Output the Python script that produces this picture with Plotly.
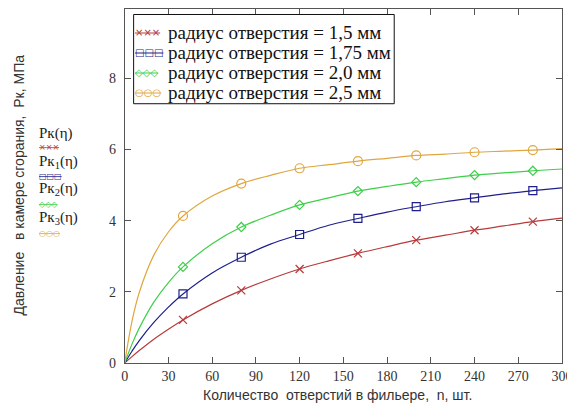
import plotly.graph_objects as go

# Data
n = [0, 5, 10, 20, 30, 40, 60, 80, 100, 120, 140, 160, 180, 200, 220, 240, 260, 280, 300]
pk_15 = [0, 0.18, 0.35, 0.67, 0.95, 1.21, 1.66, 2.04, 2.36, 2.64, 2.87, 3.08, 3.27, 3.45, 3.59, 3.73, 3.85, 3.97, 4.07]
pk_175 = [0, 0.33, 0.63, 1.14, 1.57, 1.94, 2.53, 2.97, 3.34, 3.61, 3.87, 4.06, 4.24, 4.39, 4.53, 4.64, 4.75, 4.84, 4.92]
pk_20 = [0, 0.53, 0.98, 1.71, 2.26, 2.70, 3.35, 3.82, 4.15, 4.44, 4.64, 4.83, 4.96, 5.08, 5.18, 5.28, 5.34, 5.40, 5.45]
pk_25 = [0, 1.17, 1.98, 3.03, 3.68, 4.13, 4.69, 5.04, 5.27, 5.47, 5.57, 5.67, 5.75, 5.83, 5.87, 5.92, 5.95, 5.98, 6.02]

names = ["радиус отверстия = 1,5 мм", "радиус отверстия = 1,75 мм",
         "радиус отверстия = 2,0 мм", "радиус отверстия = 2,5 мм"]
series = [pk_15, pk_175, pk_20, pk_25]
colors = ["#b83a3a", "#1f1f8c", "#3fcf4a", "#e0a640"]
symbols = ["x-thin-open", "square-open", "diamond-open", "circle-open"]
msizes = [8, 8, 7, 9]
sym_txt = ["<s>×××</s>", "<s>□□□</s>", "<s>◇◇◇</s>", "<s>○○○</s>"]

x_ticks = [0, 30, 60, 90, 120, 150, 180, 210, 240, 270, 300]
y_ticks = [0, 2, 4, 6, 8]
marker_every = 40

SERIF = '"Liberation Serif", "Times New Roman", serif'
SANS = '"Liberation Sans", Arial, sans-serif'

fig = go.Figure()
for name, ys, c, s, ms in zip(names, series, colors, symbols, msizes):
    fig.add_trace(go.Scatter(x=n, y=ys, mode="lines", name=name,
                             line=dict(color=c, width=1.2, shape="spline"),
                             showlegend=False, hoverinfo="skip"))
    mx = [xv for xv in n if xv > 0 and xv % marker_every == 0]
    my = [yv for xv, yv in zip(n, ys) if xv > 0 and xv % marker_every == 0]
    fig.add_trace(go.Scatter(x=mx, y=my, mode="markers", name=name,
                             marker=dict(symbol=s, size=ms, color=c, line=dict(color=c, width=1.2)),
                             showlegend=False))

# page is offset by the browser's 8px body margin
OFF = 8
FW, FH = 575 - OFF, 408 - OFF
PX0, PX1 = 121.5, 562   # plot left/right in page pixels
PY0, PY1 = 8, 363       # plot top/bottom in page pixels
R = FW - (PX1 - OFF)
B = FH - (PY1 - OFF)
T = PY0 - OFF
plot_w = FW - R
plot_h = FH - T - B
dom0 = (PX0 - OFF) / plot_w
ymax = (PY1 - PY0) / 35.7


def px(xp):
    return (xp - OFF) / plot_w


def py(yp):
    return 1 - (yp - PY0) / plot_h


axis_common = dict(showline=True, linecolor="#555555", linewidth=1, mirror="ticks",
                   ticks="inside", ticklen=6, tickcolor="#555555", showgrid=False, zeroline=False,
                   tickfont=dict(family=SERIF, size=14, color="#333333"))

fig.update_layout(
    width=FW, height=FH,
    margin=dict(l=0, r=R, t=T, b=B),
    plot_bgcolor="white", paper_bgcolor="white",
    xaxis=dict(range=[0, 300], tickvals=x_ticks, domain=[dom0, 1], **axis_common),
    yaxis=dict(range=[0, ymax], tickvals=y_ticks, anchor="x", ticklabelstandoff=5, **axis_common),
    showlegend=False,
)

# Legend box (drawn as in the reference)
fig.add_shape(type="rect", xref="paper", yref="paper", x0=px(130.5), x1=px(393), y0=py(103), y1=py(13.5),
              line=dict(color="#111111", width=1), fillcolor="white", layer="above")
row_y = [32, 52, 72, 92]
for name, st, c, ry in zip(names, sym_txt, colors, row_y):
    fig.add_annotation(text=st, xref="paper", yref="paper", x=px(130), y=py(ry),
                       showarrow=False, xanchor="left", yanchor="middle",
                       font=dict(family="DejaVu Sans", size=10, color=c))
    fig.add_annotation(text=name, xref="paper", yref="paper", x=px(163), y=py(ry),
                       showarrow=False, xanchor="left", yanchor="middle",
                       font=dict(family=SERIF, size=19, color="#111111"))

# X axis title
fig.add_annotation(text="Количество  отверстий в фильере,  n, шт.", xref="paper", yref="paper",
                   x=px(336), y=py(395), showarrow=False, xanchor="center", yanchor="middle",
                   font=dict(family=SANS, size=14, color="#333333"))
# Y axis title
fig.add_annotation(text="Давление   в камере сгорания,  Рк, МПа", xref="paper", yref="paper",
                   x=px(15), y=py(184), showarrow=False, textangle=-90,
                   xanchor="center", yanchor="middle",
                   font=dict(family=SANS, size=14, color="#333333"))

# Side labels (Mathcad style)
labels = ["Pк(η)", "Pк<sub>1</sub>(η)", "Pк<sub>2</sub>(η)", "Pк<sub>3</sub>(η)"]
lab_y = [133, 161, 189, 218]
sym_y = [147, 176, 204, 233]
for lt, st, ly, sy, c in zip(labels, sym_txt, lab_y, sym_y, colors):
    fig.add_annotation(text=lt, xref="paper", yref="paper", x=px(33), y=py(ly),
                       showarrow=False, xanchor="left", yanchor="middle",
                       font=dict(family=SERIF, size=15, color="#222222"))
    fig.add_annotation(text=st, xref="paper", yref="paper", x=px(33), y=py(sy),
                       showarrow=False, xanchor="left", yanchor="middle",
                       font=dict(family="DejaVu Sans", size=8, color=c))

fig.write_html("out.html")
